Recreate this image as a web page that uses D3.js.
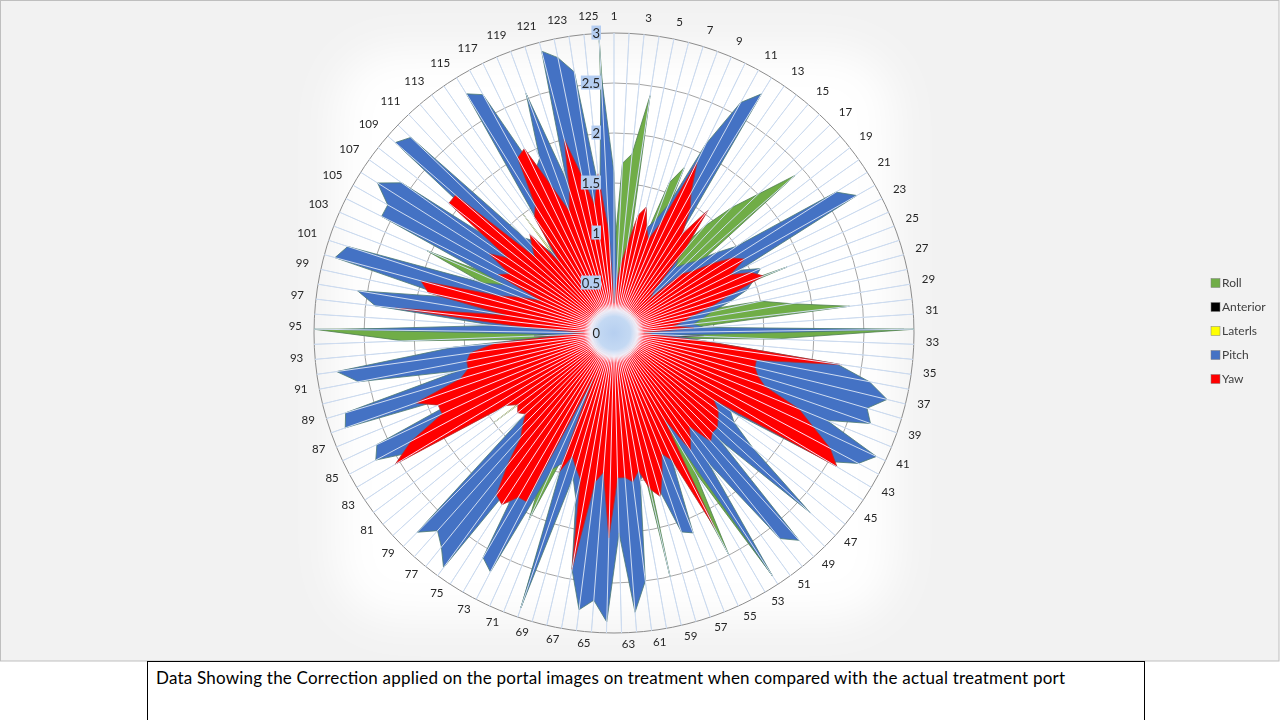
<!DOCTYPE html>
<html>
<head>
<meta charset="utf-8">
<script src="https://cdn.jsdelivr.net/npm/d3@7/dist/d3.min.js"></script>
<style>
  body { margin: 0; background: #fff; }
  text { font-family: Lato, "Open Sans", sans-serif; }
</style>
</head>
<body>
<svg id="chart" width="1280" height="720"></svg>
<script>
// categories 1..125 (every other one is labelled)
var categories = d3.range(1, 126);
var ticks = [0, 0.5, 1, 1.5, 2, 2.5, 3];
var seriesNames = ["Roll", "Anterior", "Laterls", "Pitch", "Yaw"];
var seriesColors = ["#70ad47", "#000000", "#ffff00", "#4472c4", "#ff0000"];

var roll = [
  0.8, 1.7, 1.8, 2.4, 0.6, 0.5, 0.9, 1.6, 1.8, 0.7,
  0.7, 0.6, 0.6, 1.0, 1.4, 1.72, 2.0, 2.4, 0.8, 0.7,
  0.6, 0.5, 0.6, 0.7, 1.85, 0.7, 0.8, 1.5, 1.8, 2.37,
  0.7, 3.0, 1.6, 0.6, 0.5, 0.5, 0.5, 0.6, 0.5, 0.5,
  0.5, 0.5, 0.6, 0.5, 0.6, 0.7, 0.8, 0.6, 0.5, 0.6,
  0.7, 2.9, 1.6, 2.5, 0.8, 0.6, 0.6, 0.7, 2.5, 0.6,
  0.5, 0.5, 0.6, 0.5, 0.5, 0.6, 0.6, 0.7, 0.8, 2.9,
  1.2, 2.05, 1.5, 0.6, 0.5, 0.5, 0.6, 0.5, 0.6, 0.6,
  0.5, 0.6, 0.7, 0.6, 0.5, 0.5, 0.6, 0.5, 0.5, 0.6,
  0.5, 0.6, 0.7, 2.1, 3.0, 0.8, 0.6, 0.5, 0.6, 0.5,
  0.6, 1.4, 2.05, 1.0, 0.6, 0.5, 0.6, 0.5, 0.6, 0.5,
  0.6, 0.7, 0.8, 0.6, 0.5, 0.6, 0.7, 0.8, 2.55, 0.7,
  0.6, 0.5, 0.6, 0.8, 2.93
];
var anterior = [
  0.3, 0.2, 0.3, 0.2, 0.3, 0.3, 0.2, 0.3, 0.3, 0.2,
  0.3, 0.3, 0.2, 0.3, 0.4, 0.6, 0.75, 0.4, 0.3, 0.2,
  0.3, 0.2, 0.3, 0.3, 0.2, 0.3, 0.4, 0.3, 0.2, 0.3,
  0.4, 0.6, 0.9, 0.4, 0.3, 0.2, 0.3, 0.3, 0.2, 0.3,
  0.3, 0.2, 0.3, 0.3, 0.2, 0.3, 0.3, 0.2, 0.3, 0.3,
  0.2, 0.3, 0.4, 0.65, 0.6, 0.3, 0.2, 0.3, 0.3, 0.2,
  0.3, 0.3, 0.2, 0.3, 0.3, 0.2, 0.3, 0.3, 0.2, 0.3,
  0.4, 0.7, 0.5, 0.3, 0.2, 0.3, 0.3, 0.2, 0.3, 0.3,
  0.2, 0.3, 0.3, 0.2, 0.3, 0.3, 0.2, 0.3, 0.3, 0.2,
  0.3, 0.3, 0.4, 0.8, 0.6, 0.3, 0.2, 0.3, 0.3, 0.2,
  0.3, 0.4, 0.45, 0.3, 0.2, 0.3, 0.3, 0.2, 0.3, 0.3,
  0.2, 0.3, 0.3, 0.2, 0.3, 0.3, 0.2, 0.3, 0.3, 0.2,
  0.3, 0.3, 0.2, 0.3, 0.3
];
var laterls = [
  0.2, 0.2, 0.15, 0.2, 0.2, 0.25, 0.2, 0.2, 0.15, 0.2,
  0.2, 0.2, 0.2, 0.15, 0.2, 0.2, 0.2, 0.25, 0.2, 0.2,
  0.2, 0.15, 0.2, 0.2, 0.2, 0.2, 0.2, 0.15, 0.2, 0.2,
  0.2, 0.2, 0.25, 0.2, 0.2, 0.2, 0.15, 0.2, 0.2, 0.2,
  0.2, 0.2, 0.2, 0.2, 0.15, 0.2, 0.2, 0.2, 0.2, 0.25,
  0.2, 0.2, 0.2, 0.2, 0.2, 0.15, 0.2, 0.2, 0.2, 0.2,
  0.2, 0.2, 0.2, 0.15, 0.2, 0.2, 0.2, 0.2, 0.25, 0.2,
  0.2, 0.2, 0.2, 0.2, 0.2, 0.15, 0.2, 0.2, 0.2, 0.2,
  0.3, 1.5, 0.4, 0.2, 0.2, 0.2, 0.15, 0.2, 0.2, 0.2,
  0.2, 0.2, 0.2, 0.2, 0.2, 0.2, 0.2, 0.15, 0.2, 0.2,
  0.2, 0.2, 0.2, 0.2, 0.2, 0.2, 0.15, 0.2, 0.2, 0.2,
  0.2, 0.4, 1.5, 0.3, 0.2, 0.2, 0.2, 0.2, 0.15, 0.2,
  0.2, 0.2, 0.2, 0.2, 0.2
];
var pitch = [
  1.6, 0.6, 0.5, 0.6, 0.8, 1.0, 1.1, 1.2, 1.4, 2.1,
  2.63, 2.81, 1.0, 1.2, 1.0, 0.9, 1.0, 1.1, 1.3, 1.5,
  2.63, 2.79, 1.4, 1.6, 1.5, 1.4, 1.2, 1.0, 0.9, 0.8,
  0.9, 2.9, 0.6, 0.9, 2.25, 2.6, 2.81, 2.64, 2.72, 2.3,
  2.9, 2.77, 2.5, 1.4, 1.5, 1.8, 2.66, 1.5, 2.78, 2.64,
  1.6, 2.9, 1.3, 0.5, 1.4, 2.15, 2.1, 1.6, 1.4, 1.5,
  2.5, 2.8, 2.0, 2.89, 2.68, 2.79, 2.4, 1.7, 1.5, 2.9,
  1.4, 1.5, 2.69, 2.6, 1.6, 2.9, 2.75, 2.65, 2.8, 1.2,
  1.1, 1.0, 1.1, 2.3, 2.7, 2.62, 1.5, 2.85, 2.8, 1.6,
  2.6, 2.8, 1.6, 0.5, 2.75, 1.2, 2.4, 2.6, 1.7, 2.89,
  2.8, 1.4, 1.2, 2.6, 2.6, 2.8, 2.6, 1.3, 2.9, 2.82,
  1.3, 1.2, 1.0, 1.3, 2.81, 2.72, 1.8, 1.9, 2.55, 1.6,
  2.91, 2.81, 2.64, 1.4, 2.6
];
var yaw = [
  0.3, 0.5, 0.7, 0.9, 1.2, 1.3, 1.1, 1.0, 1.2, 1.9,
  1.6, 1.45, 1.2, 1.55, 1.1, 0.6, 0.5, 0.9, 1.0, 1.2,
  1.4, 1.5, 1.3, 1.5, 1.6, 1.2, 1.0, 0.8, 0.7, 0.6,
  0.8, 0.3, 0.4, 0.9, 2.3, 1.45, 1.45, 1.5, 1.6, 2.0,
  2.2, 2.45, 2.6, 1.2, 1.3, 1.35, 1.4, 1.4, 1.45, 1.2,
  1.3, 1.4, 1.0, 2.2, 1.4, 1.3, 1.5, 1.7, 1.6, 1.4,
  1.5, 1.45, 1.45, 2.05, 1.4, 1.5, 2.4, 1.5, 1.4, 1.3,
  1.5, 0.5, 1.9, 1.9, 2.05, 2.0, 1.7, 1.4, 1.3, 1.2,
  1.25, 1.2, 1.3, 2.55, 2.3, 1.9, 1.9, 2.1, 1.6, 1.5,
  1.5, 1.45, 1.2, 0.5, 0.3, 0.9, 2.2, 1.1, 1.9, 2.0,
  1.2, 1.0, 0.8, 1.3, 1.2, 1.48, 1.3, 2.1, 2.1, 1.1,
  1.2, 1.3, 0.9, 1.4, 1.5, 2.0, 2.05, 1.6, 1.3, 1.5,
  2.0, 1.6, 1.3, 1.6, 1.0
];
var seriesData = [roll, anterior, laterls, pitch, yaw];

var svg = d3.select("#chart");
var cx = 614, cy = 333, R = 300;

// chart area background
svg.append("rect")
  .attr("x", 0.5).attr("y", 0.5).attr("width", 1278.5).attr("height", 660.5)
  .attr("fill", "#f2f2f2").attr("stroke", "#bfbfbf");

var defs = svg.append("defs");
defs.append("filter").attr("id", "glow")
  .attr("x", "-20%").attr("y", "-20%").attr("width", "140%").attr("height", "140%")
  .append("feGaussianBlur").attr("stdDeviation", 22);
var grad = defs.append("radialGradient").attr("id", "hub");
grad.append("stop").attr("offset", "0%").attr("stop-color", "#b6cff0");
grad.append("stop").attr("offset", "55%").attr("stop-color", "#c4d9f3");
grad.append("stop").attr("offset", "78%").attr("stop-color", "#eef3fb").attr("stop-opacity", 0.9);
grad.append("stop").attr("offset", "100%").attr("stop-color", "#ffffff").attr("stop-opacity", 0);

svg.append("rect")
  .attr("x", 335).attr("y", 50).attr("width", 560).attr("height", 570).attr("rx", 60)
  .attr("fill", "#ffffff").attr("filter", "url(#glow)");

var g = svg.append("g").attr("transform", "translate(" + cx + "," + cy + ")");

var r = d3.scaleLinear().domain([0, 3]).range([0, R]);
var angle = d3.scaleLinear().domain([0, categories.length]).range([0, 2 * Math.PI]);

// circular gridlines
g.selectAll(".ring")
  .data(ticks.slice(1))
  .enter().append("circle")
  .attr("r", (d) => r(d))
  .attr("fill", "none")
  .attr("stroke", (d) => d == 3 ? "#8c8c8c" : "#a6a6a6")
  .attr("stroke-width", 1);

function spokes(layer, color, blend) {
  layer.selectAll("line")
    .data(categories)
    .enter().append("line")
    .attr("x1", 0).attr("y1", 0)
    .attr("x2", (d, i) => r(3) * Math.sin(angle(i)))
    .attr("y2", (d, i) => -r(3) * Math.cos(angle(i)))
    .attr("stroke", color)
    .attr("stroke-width", 1)
    .style("mix-blend-mode", blend);
}
spokes(g.append("g"), "#bdd1ea", "normal");

// filled series, first series at the back
var radial = d3.lineRadial()
  .angle((d, i) => angle(i))
  .radius((d) => r(d))
  .curve(d3.curveLinearClosed);

var outline = ["#4e7d52", "#222222", "#9a9a30", "#4d7b72", "#b03030"];
seriesData.forEach(function (vals, k) {
  g.append("path")
    .datum(vals)
    .attr("d", radial)
    .attr("fill", seriesColors[k])
    .attr("stroke", outline[k])
    .attr("stroke-width", 0.8)
    .attr("stroke-linejoin", "miter");
});

// spokes again on top, showing as pale lines through the fills
spokes(g.append("g"), "#cfdcf0", "lighten");

// hub
g.append("circle").attr("r", 30).attr("fill", "url(#hub)");

// value axis labels
var tl = g.selectAll(".tick")
  .data(ticks)
  .enter().append("g");
tl.append("text")
  .attr("x", -14)
  .attr("y", (d) => -r(d))
  .attr("dy", "0.35em")
  .attr("text-anchor", "end")
  .attr("font-size", 13)
  .attr("fill", "#262626")
  .text((d) => d);
tl.each(function () {
  var t = d3.select(this).select("text");
  var b = t.node().getBBox();
  if (+t.text() != 0) {
    d3.select(this).insert("rect", "text")
      .attr("x", b.x - 1).attr("y", b.y + 1)
      .attr("width", b.width + 2).attr("height", b.height - 2)
      .attr("fill", "#b4cdf1");
  }
});

// category labels
var labelled = categories.filter((d, i) => i % 2 == 0);
g.selectAll(".cat")
  .data(labelled)
  .enter().append("text")
  .attr("font-size", 11.5)
  .attr("fill", "#262626")
  .attr("text-anchor", "middle")
  .attr("dy", "0.35em")
  .text((d) => d)
  .each(function (d) {
    var a = angle(d - 1);
    var w = this.getComputedTextLength();
    var s = Math.sin(a);
    var side = Math.abs(s) < 1e-6 ? 0 : (s > 0 ? 1 : -1);
    var x = 312 * s + side * w / 2;
    var y = -3 - 314 * Math.cos(a);
    d3.select(this).attr("x", x).attr("y", y);
  });

// legend
var lg = svg.append("g").attr("transform", "translate(1211,283)");
seriesNames.forEach(function (name, k) {
  var row = lg.append("g").attr("transform", "translate(0," + (k * 24) + ")");
  row.append("rect")
    .attr("x", 0).attr("y", -4.5).attr("width", 9).attr("height", 9)
    .attr("fill", seriesColors[k])
    .attr("stroke", "#7f7f7f").attr("stroke-width", 0.5);
  row.append("text")
    .attr("x", 11).attr("y", 0).attr("dy", "0.35em")
    .attr("font-size", 12).attr("fill", "#404040")
    .text(name);
});

// caption box
svg.append("rect")
  .attr("x", 147.5).attr("y", 661.5).attr("width", 997).attr("height", 70)
  .attr("fill", "#ffffff").attr("stroke", "#000000").attr("stroke-width", 1);
svg.append("text")
  .attr("x", 156).attr("y", 684)
  .attr("font-size", 17)
  .attr("fill", "#000000")
  .attr("textLength", 909)
  .attr("lengthAdjust", "spacing")
  .text("Data Showing the Correction applied on the portal images on treatment when compared with the actual treatment port");
</script>
</body>
</html>
